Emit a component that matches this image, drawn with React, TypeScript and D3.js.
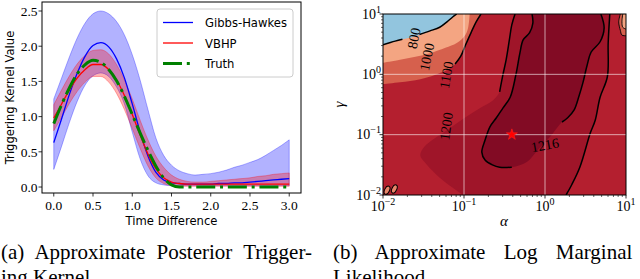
import React from 'react';
import * as d3 from 'd3';

// ---------------- Panel (a) data ----------------
const timeGrid = [0, 0.1, 0.2, 0.3, 0.4, 0.5, 0.6, 0.7, 0.8, 0.9, 1.0, 1.1, 1.2, 1.3, 1.4, 1.5, 1.6, 1.7, 1.8, 1.9, 2.0, 2.1, 2.2, 2.3, 2.4, 2.5, 2.6, 2.7, 2.8, 2.9, 3.0];
const truthKernel = [0.90, 1.17, 1.41, 1.61, 1.74, 1.80, 1.77, 1.67, 1.51, 1.29, 1.03, 0.77, 0.52, 0.30, 0.13, 0.03, 0, 0, 0, 0, 0, 0, 0, 0, 0, 0, 0, 0, 0, 0, 0];
const ghMean = [0.63, 0.97, 1.32, 1.62, 1.86, 2.01, 2.05, 1.99, 1.82, 1.55, 1.18, 0.78, 0.44, 0.21, 0.10, 0.06, 0.05, 0.04, 0.04, 0.04, 0.04, 0.05, 0.05, 0.06, 0.06, 0.07, 0.08, 0.09, 0.10, 0.11, 0.12];
const ghUpper = [1.25, 1.55, 1.85, 2.12, 2.33, 2.46, 2.50, 2.46, 2.35, 2.16, 1.88, 1.52, 1.10, 0.70, 0.45, 0.31, 0.23, 0.19, 0.17, 0.18, 0.19, 0.21, 0.24, 0.28, 0.31, 0.35, 0.39, 0.45, 0.52, 0.59, 0.67];
const ghLower = [0.25, 0.58, 0.92, 1.22, 1.45, 1.58, 1.62, 1.57, 1.42, 1.18, 0.78, 0.40, 0.16, 0.06, 0.03, 0.02, 0.02, 0.02, 0.02, 0.02, 0.02, 0.02, 0.02, 0.02, 0.02, 0.02, 0.02, 0.02, 0.02, 0.02, 0.02];
const vbMean = [0.98, 1.18, 1.38, 1.55, 1.67, 1.74, 1.74, 1.67, 1.52, 1.30, 1.03, 0.74, 0.47, 0.26, 0.13, 0.07, 0.05, 0.04, 0.04, 0.04, 0.04, 0.04, 0.04, 0.04, 0.04, 0.04, 0.04, 0.04, 0.04, 0.04, 0.04];
const vbUpper = [1.17, 1.38, 1.58, 1.75, 1.87, 1.94, 1.95, 1.89, 1.74, 1.52, 1.25, 0.95, 0.67, 0.44, 0.28, 0.17, 0.11, 0.08, 0.07, 0.07, 0.08, 0.09, 0.10, 0.11, 0.12, 0.13, 0.15, 0.16, 0.18, 0.19, 0.20];
const vbLower = [0.80, 0.99, 1.19, 1.36, 1.49, 1.57, 1.57, 1.49, 1.33, 1.10, 0.83, 0.55, 0.30, 0.13, 0.05, 0.02, 0.01, 0.01, 0.01, 0.01, 0.01, 0.01, 0.01, 0.01, 0.01, 0.01, 0.01, 0.01, 0.01, 0.01, 0.01];
const xTicksA = [0, 0.5, 1.0, 1.5, 2.0, 2.5, 3.0];
const yTicksA = [0, 0.5, 1.0, 1.5, 2.0, 2.5];
const legendLabels = ['Gibbs-Hawkes', 'VBHP', 'Truth'];

// ---------------- Panel (b) data (log10 alpha, log10 gamma) ----------------
const decadeTicks = [-2, -1, 0, 1];
const gridDecades = [-1, 0];
const salmonEdge = [[-2, 0.49], [-1.85, 0.55], [-1.73, 0.59], [-1.63, 0.62], [-1.52, 0.67], [-1.42, 0.72], [-1.30, 0.78], [-1.21, 0.87], [-1.14, 0.95], [-1.09, 1.0]];
const mediumEdge = [[-2, 0.19], [-1.79, 0.24], [-1.60, 0.29], [-1.42, 0.35], [-1.23, 0.44], [-1.09, 0.52], [-0.99, 0.64], [-0.95, 0.77], [-0.93, 1.0]];
const redEdge = [[-2, -0.16], [-1.79, -0.13], [-1.54, -0.08], [-1.36, -0.01], [-1.21, 0.07], [-1.11, 0.17], [-1.04, 0.30], [-0.98, 0.49], [-0.91, 0.70], [-0.85, 0.87], [-0.79, 1.0]];
const lowerRightCorners = [[1, 1], [1, -2], [-2, -2]];
const darkLeftEdge = [[-1.01, -2], [-1.17, -1.85], [-1.35, -1.65], [-1.49, -1.45], [-1.54, -1.34], [-1.49, -1.20], [-1.36, -1.06], [-1.17, -0.89], [-0.99, -0.72], [-0.80, -0.56], [-0.64, -0.43], [-0.56, -0.29], [-0.52, -0.01], [-0.48, 0.24], [-0.44, 0.57], [-0.41, 0.82], [-0.37, 1.0]];
const lineR2 = [[0.80, 1.0], [0.78, 0.52], [0.77, -0.04], [0.68, -0.38], [0.62, -0.76], [0.56, -0.97], [0.43, -1.54], [0.33, -1.83], [0.26, -2.0]];
const lineL2 = [[-0.16, 1.0], [-0.15, 0.85], [-0.19, 0.69], [-0.27, 0.57], [-0.31, 0.35], [-0.36, -0.01], [-0.43, -0.38], [-0.52, -0.56], [-0.60, -0.72], [-0.68, -0.87], [-0.74, -1.09], [-0.78, -1.29], [-0.74, -1.42], [-0.65, -1.50], [-0.56, -1.54], [-0.41, -1.54]];
const darkestBottom = [[-0.22, -1.45], [-0.10, -1.27], [0.06, -1.04]];
const lineR1 = [[0.21, -0.79], [0.28, -0.72], [0.36, -0.59], [0.42, -0.36], [0.47, -0.13], [0.52, 0.15], [0.57, 0.37], [0.68, 0.54], [0.73, 0.77], [0.69, 1.0]];
const lineL1 = [[-0.37, 1.0], [-0.41, 0.82], [-0.44, 0.57], [-0.48, 0.24], [-0.52, -0.01], [-0.56, -0.29]];
const line800a = [[-2, 0.49], [-1.85, 0.55], [-1.76, 0.58]];
const line800b = [[-1.55, 0.66], [-1.42, 0.72], [-1.30, 0.78], [-1.21, 0.87], [-1.14, 0.95], [-1.09, 1.0]];
const line1100 = [[-1.11, 0.17], [-1.04, 0.30], [-0.98, 0.49], [-0.91, 0.70], [-0.85, 0.87], [-0.79, 1.0]];
const cornerOuter = [[0.93, 1.0], [0.91, 0.87], [0.93, 0.73], [0.95, 0.65], [1.0, 0.64]];
const cornerInner = [[0.96, 1.0], [0.95, 0.87], [0.96, 0.78], [1.0, 0.75]];
const cornerTR = [[1, 1]];
const tinyLoops = [[-1.95, -1.92], [-1.86, -1.90]];
const contourLabels = [
  { text: '800', a: -1.62, g: 0.60, rot: -78 },
  { text: '1000', a: -1.46, g: 0.29, rot: -78 },
  { text: '1100', a: -1.22, g: -0.01, rot: -80 },
  { text: '1200', a: -1.22, g: -0.86, rot: -82 },
  { text: '1216', a: 0.0, g: -1.17, rot: -10 },
];
const optimum = [0.39, 0.1];

// ---------------- layout ----------------
const A = { l: 42, r: 301, t: 2, b: 193 };
const B = { l: 383, r: 626, t: 14, b: 195 };
const serif = "'Liberation Serif', 'Times New Roman', serif";
const sans = "'DejaVu Sans', sans-serif";

const xA = d3.scaleLinear().domain([-0.15, 3.15]).range([A.l, A.r]);
const yA = d3.scaleLinear().domain([-0.085, 2.628]).range([A.b, A.t]);
const xB = d3.scaleLog().domain([0.01, 10]).range([B.l, B.r]);
const yB = d3.scaleLog().domain([0.01, 10]).range([B.b, B.t]);

const toPx = (p: number[]): [number, number] => [xB(Math.pow(10, p[0])), yB(Math.pow(10, p[1]))];
const smooth = d3.line<[number, number]>().curve(d3.curveCatmullRom.alpha(0.5));
const cPath = (pts: number[][]) => smooth(pts.map(toPx)) as string;
const asL = (s: string) => 'L' + s.slice(1);
const corners = (pts: number[][]) => pts.map((c) => { const p = toPx(c); return `L${p[0]},${p[1]}`; }).join('');

function PanelA() {
  const idx = timeGrid.map((_, i) => i);
  const band = (lo: number[], hi: number[]) =>
    d3.area<number>().x((i) => xA(timeGrid[i])).y0((i) => yA(lo[i])).y1((i) => yA(hi[i])).curve(d3.curveMonotoneX)(idx) as string;
  const ln = (v: number[]) => d3.line<number>().x((i) => xA(timeGrid[i])).y((i) => yA(v[i])).curve(d3.curveMonotoneX)(idx) as string;
  const legendColors = ['#0000ff', '#ff0000', '#008000'];
  return (
    <g>
      <defs>
        <clipPath id="clipA"><rect x={A.l} y={A.t} width={A.r - A.l} height={A.b - A.t} /></clipPath>
      </defs>
      <g clipPath="url(#clipA)">
        <path d={band(ghLower, ghUpper)} fill="#0000ff" fillOpacity={0.3} stroke="#0000ff" strokeOpacity={0.3} strokeWidth={1} />
        <path d={band(vbLower, vbUpper)} fill="#ff0000" fillOpacity={0.3} stroke="#ff0000" strokeOpacity={0.3} strokeWidth={1} />
        <path d={ln(ghMean)} fill="none" stroke="#0000ff" strokeWidth={1.3} />
        <path d={ln(vbMean)} fill="none" stroke="#ff0000" strokeWidth={1.3} />
        <path d={ln(truthKernel)} fill="none" stroke="#008000" strokeWidth={3} strokeDasharray="19,4.8,3,4.8" />
      </g>
      <rect x={A.l} y={A.t} width={A.r - A.l} height={A.b - A.t} fill="none" stroke="#000" strokeWidth={1} />
      {xTicksA.map((t) => (
        <g key={'xa' + t}>
          <line x1={xA(t)} x2={xA(t)} y1={A.b} y2={A.b + 3.5} stroke="#000" strokeWidth={0.8} />
          <text x={xA(t)} y={209.5} textAnchor="middle" fontFamily={serif} fontSize={13.5}>{t.toFixed(1)}</text>
        </g>
      ))}
      {yTicksA.map((t) => (
        <g key={'ya' + t}>
          <line x1={A.l - 3.5} x2={A.l} y1={yA(t)} y2={yA(t)} stroke="#000" strokeWidth={0.8} />
          <text x={37.5} y={yA(t) + 4.7} textAnchor="end" fontFamily={serif} fontSize={13.5}>{t.toFixed(1)}</text>
        </g>
      ))}
      <text x={(A.l + A.r) / 2} y={224.5} textAnchor="middle" fontFamily={sans} fontSize={11.6}>Time Difference</text>
      <text transform={`translate(13.5,${(A.t + A.b) / 2}) rotate(-90)`} textAnchor="middle" fontFamily={sans} fontSize={11.6}>Triggering Kernel Value</text>
      <rect x={157} y={9} width={136} height={68} rx={3} fill="#fff" fillOpacity={0.8} stroke="#cccccc" strokeWidth={1} />
      {legendLabels.map((lab, i) => (
        <g key={lab}>
          <line x1={163} x2={193} y1={22.5 + i * 20.5} y2={22.5 + i * 20.5} stroke={legendColors[i]}
            strokeWidth={i === 2 ? 3 : 1.3} strokeDasharray={i === 2 ? '19,4.8,3,4.8' : undefined} />
          <text x={205} y={27 + i * 20.5} fontFamily={sans} fontSize={11.6}>{lab}</text>
        </g>
      ))}
    </g>
  );
}

function expLabel(e: number) {
  return e < 0 ? '\u2212' + Math.abs(e) : String(e);
}

function PanelB() {
  const salmon = cPath(salmonEdge) + corners(lowerRightCorners) + 'Z';
  const medium = cPath(mediumEdge) + corners(lowerRightCorners) + 'Z';
  const red = cPath(redEdge) + corners(lowerRightCorners) + 'Z';
  const dark = cPath(darkLeftEdge) + asL(cPath(lineR2)) + 'Z';
  const darkest = cPath([...lineL2, ...darkestBottom, ...lineR1]) + 'Z';
  const cOuter = cPath(cornerOuter) + corners(cornerTR) + 'Z';
  const cInner = cPath(cornerInner) + corners(cornerTR) + 'Z';
  const minors: number[] = [];
  [-2, -1, 0].forEach((e) => [2, 3, 4, 5, 6, 7, 8, 9].forEach((m) => minors.push(m * Math.pow(10, e))));
  const star = d3.symbol().type(d3.symbolStar).size(38)() as string;
  const lines = [line800a, line800b, line1100, lineL1, lineL2, lineR1, lineR2];
  return (
    <g>
      <defs>
        <clipPath id="clipB"><rect x={B.l} y={B.t} width={B.r - B.l} height={B.b - B.t} /></clipPath>
      </defs>
      <g clipPath="url(#clipB)">
        <rect x={B.l} y={B.t} width={B.r - B.l} height={B.b - B.t} fill="#92c5de" />
        <path d={salmon} fill="#f4a582" />
        <path d={medium} fill="#d6604d" />
        <path d={red} fill="#b41f2f" />
        <path d={dark} fill="#9f1529" />
        <path d={darkest} fill="#820b24" />
        <path d={cOuter} fill="#d6604d" />
        <path d={cInner} fill="#f4a582" />
        <path d={cPath(cornerOuter)} fill="none" stroke="#000" strokeWidth={0.9} />
        <path d={cPath(cornerInner)} fill="none" stroke="#000" strokeWidth={0.9} />
        {lines.map((l, i) => <path key={'cl' + i} d={cPath(l)} fill="none" stroke="#000" strokeWidth={1.5} />)}
        {tinyLoops.map((p, i) => {
          const q = toPx(p);
          return <ellipse key={'tl' + i} cx={q[0]} cy={q[1]} rx={2.4} ry={4.4} transform={`rotate(25,${q[0]},${q[1]})`} fill="#e8866a" stroke="#000" strokeWidth={1} />;
        })}
        {gridDecades.map((e) => (
          <g key={'g' + e}>
            <line x1={xB(Math.pow(10, e))} x2={xB(Math.pow(10, e))} y1={B.t} y2={B.b} stroke="#ffffff" strokeOpacity={0.6} strokeWidth={1} />
            <line x1={B.l} x2={B.r} y1={yB(Math.pow(10, e))} y2={yB(Math.pow(10, e))} stroke="#ffffff" strokeOpacity={0.6} strokeWidth={1} />
          </g>
        ))}
        {contourLabels.map((c) => {
          const q = toPx([c.a, c.g]);
          return (
            <text key={c.text} transform={`translate(${q[0]},${q[1]}) rotate(${c.rot})`} textAnchor="middle" dy="0.35em"
              fontFamily={serif} fontSize={14}>{c.text}</text>
          );
        })}
        <path d={star} transform={`translate(${xB(optimum[0])},${yB(optimum[1])})`} fill="#ff0000" stroke="#ff2020" strokeWidth={0.6} />
      </g>
      <rect x={B.l} y={B.t} width={B.r - B.l} height={B.b - B.t} fill="none" stroke="#000" strokeWidth={1} />
      {minors.map((m, i) => (
        <g key={'mn' + i}>
          <line x1={xB(m)} x2={xB(m)} y1={B.b} y2={B.b + 2} stroke="#000" strokeWidth={0.6} />
          <line x1={B.l - 2} x2={B.l} y1={yB(m)} y2={yB(m)} stroke="#000" strokeWidth={0.6} />
        </g>
      ))}
      {decadeTicks.map((e) => (
        <g key={'mj' + e}>
          <line x1={xB(Math.pow(10, e))} x2={xB(Math.pow(10, e))} y1={B.b} y2={B.b + 3.5} stroke="#000" strokeWidth={0.8} />
          <line x1={B.l - 3.5} x2={B.l} y1={yB(Math.pow(10, e))} y2={yB(Math.pow(10, e))} stroke="#000" strokeWidth={0.8} />
          <text x={xB(Math.pow(10, e))} y={210.5} textAnchor="middle" fontFamily={serif} fontSize={14}>
            10<tspan dy={-6} fontSize={10}>{expLabel(e)}</tspan>
          </text>
          <text x={381} y={yB(Math.pow(10, e)) + 4.8} textAnchor="end" fontFamily={serif} fontSize={14}>
            10<tspan dy={-6} fontSize={10}>{expLabel(e)}</tspan>
          </text>
        </g>
      ))}
      <text x={(B.l + B.r) / 2 - 0.5} y={225.5} textAnchor="middle" fontFamily={serif} fontStyle="italic" fontSize={15}>α</text>
      <text transform={`translate(344,${(B.t + B.b) / 2}) rotate(-90)`} textAnchor="middle" fontFamily={serif} fontStyle="italic" fontSize={15}>γ</text>
    </g>
  );
}

export default function App() {
  return (
    <svg width={640} height={279} viewBox="0 0 640 279" style={{ position: 'absolute', left: 0, top: 0, background: '#fff' }}>
      <PanelA />
      <PanelB />
      <text x={1} y={259} fontFamily={serif} fontSize={21} wordSpacing={6}>(a) Approximate Posterior Trigger-</text>
      <text x={1} y={284} fontFamily={serif} fontSize={21}>ing Kernel</text>
      <text x={333} y={259} fontFamily={serif} fontSize={21} wordSpacing={13}>(b) Approximate Log Marginal</text>
      <text x={333} y={284} fontFamily={serif} fontSize={21}>Likelihood</text>
    </svg>
  );
}
